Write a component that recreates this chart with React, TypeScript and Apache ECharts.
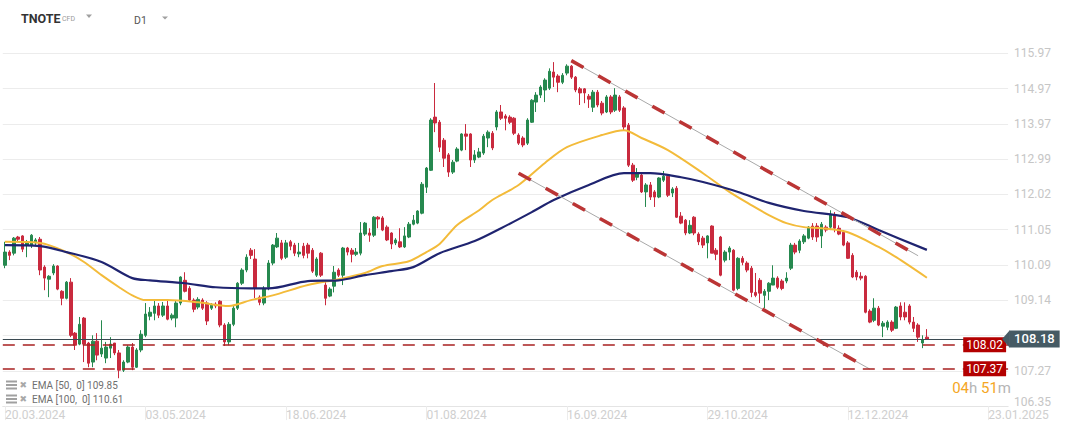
import React, { useEffect, useRef } from "react";
import * as echarts from "echarts";

const symbolName = "TNOTE";
const symbolType = "CFD";
const timeframe = "D1";

const yTickLabels = ["106.35", "107.27", "108.18", "109.14", "110.09", "111.05", "112.02", "112.99", "113.97", "114.97", "115.97"];
const xTickLabels = ["20.03.2024", "03.05.2024", "18.06.2024", "01.08.2024", "16.09.2024", "29.10.2024", "12.12.2024", "23.01.2025"];

// [open, close, low, high]
const candles: number[][] = [
  [110.19,110.55,110.11,110.83],[110.55,110.46,110.33,110.60],[110.52,110.93,110.46,110.96],[110.96,110.90,110.83,110.99],
  [110.99,110.63,110.55,111.01],[110.74,110.83,110.41,110.88],[110.74,111.01,110.66,111.04],[110.80,110.88,110.74,110.93],
  [110.90,110.06,109.92,110.96],[110.14,109.84,109.51,110.19],[109.81,109.89,109.32,109.92],[109.98,110.17,109.92,110.22],
  [110.17,109.54,109.51,110.19],[109.48,109.29,109.10,109.51],[109.29,109.73,109.26,109.76],[109.73,108.28,108.23,109.84],
  [108.34,108.01,107.88,108.37],[108.04,108.58,108.01,108.78],[108.75,108.04,107.55,108.78],[108.07,107.52,107.41,108.10],
  [107.55,108.12,107.41,108.28],[108.12,107.74,107.60,108.34],[107.77,107.93,107.69,108.69],[107.66,107.96,107.52,108.10],
  [107.93,108.04,107.66,108.23],[108.07,107.80,107.74,108.07],[107.80,107.33,107.11,107.88],[107.33,107.55,107.28,107.60],
  [107.55,107.96,107.52,108.01],[107.96,107.41,107.33,108.07],[107.41,107.88,107.39,107.93],[107.88,108.31,107.82,108.42],
  [108.28,108.86,108.23,109.16],[108.80,108.91,108.69,109.05],[108.88,109.08,108.69,109.24],[109.08,108.83,108.75,109.16],
  [108.83,109.08,108.78,109.19],[109.08,108.72,108.69,109.24],[108.75,108.83,108.69,108.88],[108.75,109.16,108.50,109.24],
  [109.16,109.87,109.10,109.89],[109.78,109.48,109.45,110.00],[109.56,109.24,109.19,109.62],[109.24,108.99,108.91,109.29],
  [109.05,109.26,108.99,109.32],[109.24,109.02,108.97,109.29],[109.16,108.67,108.56,109.21],[109.02,109.10,108.97,109.16],
  [109.13,109.08,109.02,109.18],[109.21,108.56,108.50,109.24],[108.56,108.10,107.99,108.61],[108.10,108.58,108.01,108.64],
  [108.58,109.02,108.53,109.08],[109.02,109.70,108.97,109.73],[109.70,110.06,109.65,110.11],[110.06,110.41,110.00,110.49],
  [110.60,110.46,110.36,110.66],[110.36,109.56,109.29,110.63],[109.32,109.18,109.10,109.37],[109.16,109.56,109.10,109.62],
  [109.59,110.25,109.51,110.33],[110.25,110.74,110.19,110.77],[110.69,110.93,110.66,111.07],[110.80,110.38,110.33,110.88],
  [110.41,110.80,110.36,110.88],[110.83,110.71,110.60,110.88],[110.74,110.52,110.44,110.80],[110.50,110.55,110.41,110.80],
  [110.71,110.46,110.38,110.80],[110.74,110.52,110.38,110.80],[110.60,110.03,109.98,110.66],[109.92,110.36,109.87,110.41],
  [110.52,109.92,109.87,110.55],[109.65,109.29,109.10,109.73],[109.35,109.54,109.32,109.59],[109.62,110.00,109.45,110.17],
  [110.06,109.92,109.87,110.11],[109.92,110.66,109.65,110.69],[110.66,110.55,110.46,110.69],[110.60,110.49,110.27,110.66],
  [110.49,110.55,110.44,110.66],[110.52,111.07,110.46,111.37],[111.04,111.34,110.99,111.37],[111.07,111.01,110.83,111.20],
  [111.01,111.50,110.96,111.53],[111.50,111.45,111.20,111.53],[111.48,111.15,111.12,111.53],[111.23,110.88,110.85,111.28],
  [111.07,110.77,110.63,111.09],[110.80,110.88,110.74,110.93],[110.83,110.69,110.66,111.20],[110.69,110.99,110.66,111.23],
  [110.96,111.31,110.93,111.37],[111.31,111.42,111.28,111.56],[111.34,111.67,111.31,111.69],[111.61,112.40,111.58,112.46],
  [112.32,112.84,112.16,112.87],[112.78,114.15,112.76,114.20],[114.23,114.07,113.82,115.16],[114.09,113.41,113.28,114.15],
  [113.60,113.11,112.87,113.66],[113.20,112.73,112.60,113.25],[112.73,113.00,112.68,113.06],[113.03,113.36,113.00,113.41],
  [113.33,113.77,113.30,113.79],[113.77,113.71,113.33,114.04],[113.77,113.06,112.87,113.79],[113.06,113.20,112.98,113.33],
  [113.14,113.28,113.11,113.39],[113.25,113.71,113.20,113.77],[113.66,113.82,113.41,113.87],[113.79,113.39,113.33,113.85],
  [113.96,114.37,113.87,114.42],[114.37,114.20,114.15,114.56],[114.26,114.20,113.87,114.31],[114.23,114.09,114.04,114.28],
  [114.20,113.79,113.74,114.23],[113.74,113.52,113.47,113.79],[113.66,113.47,113.41,113.71],[113.52,114.15,113.47,114.20],
  [114.09,114.69,114.07,114.72],[114.64,114.83,114.37,114.91],[114.83,115.05,114.75,115.10],[114.97,115.24,114.64,115.29],
  [115.02,115.48,114.97,115.56],[115.46,115.32,115.05,115.73],[115.35,115.18,114.91,115.40],[115.18,115.37,115.13,115.43],
  [115.43,115.62,115.37,115.67],[115.62,115.32,115.27,115.65],[115.32,114.97,114.91,115.35],[115.00,114.89,114.56,115.05],
  [115.00,114.89,114.61,115.02],[114.80,114.72,114.48,114.86],[114.50,114.91,114.37,114.97],[114.91,114.56,114.50,114.97],
  [114.61,114.34,114.28,114.67],[114.37,114.78,114.34,114.83],[114.78,114.37,114.31,114.83],[114.42,114.83,114.37,115.02],
  [114.78,114.42,114.37,114.83],[114.48,113.96,113.87,114.53],[114.01,112.92,112.87,114.07],[112.92,112.51,112.46,112.98],
  [112.59,112.68,112.51,112.84],[112.65,112.19,112.16,112.68],[112.19,112.38,111.78,112.43],[112.38,112.05,111.97,112.46],
  [112.19,112.05,111.78,112.24],[112.05,112.57,112.02,112.59],[112.51,112.62,112.46,112.76],[112.62,112.10,112.05,112.65],
  [112.16,112.27,112.05,112.32],[112.29,111.50,111.48,112.35],[111.53,111.34,111.31,111.64],[111.42,111.07,111.01,111.45],
  [111.07,111.28,111.04,111.42],[111.50,111.07,111.01,111.53],[111.04,110.83,110.74,111.09],[110.93,110.74,110.66,110.99],
  [110.80,110.99,110.38,111.01],[111.26,110.52,110.52,111.28],[110.60,110.49,110.33,110.66],[110.96,109.92,109.89,110.99],
  [110.33,110.55,110.27,110.60],[110.55,110.66,110.33,110.71],[110.60,109.51,109.48,110.63],[109.56,110.38,109.51,110.41],
  [110.38,110.27,110.19,110.44],[110.25,110.06,110.00,110.30],[110.11,109.45,109.32,110.17],[109.45,109.37,109.32,109.98],
  [109.78,109.43,109.16,109.84],[109.37,109.48,109.02,109.54],[109.48,109.70,109.24,109.73],[109.65,109.84,109.65,110.19],
  [109.84,109.59,109.54,109.89],[109.76,109.56,109.51,109.81],[109.76,109.84,109.70,110.00],[110.11,110.74,110.06,110.80],
  [110.74,110.55,110.49,110.80],[110.60,110.85,110.52,110.90],[110.83,110.99,110.77,111.04],[110.93,111.23,110.90,111.26],
  [111.26,110.96,110.88,111.34],[111.26,110.96,110.83,111.34],[110.99,111.31,110.66,111.37],[111.23,111.15,111.09,111.28],
  [111.23,111.56,111.15,111.69],[111.56,111.20,111.09,111.64],[111.20,111.04,111.01,111.28],[111.09,110.74,110.71,111.15],
  [110.80,110.38,110.36,110.85],[110.46,109.87,109.84,110.52],[110.00,109.87,109.78,110.06],[109.89,109.84,109.78,110.00],
  [109.89,108.91,108.88,109.92],[108.94,108.64,108.61,108.99],[108.69,109.02,108.64,109.29],[109.02,108.56,108.53,109.08],
  [108.53,108.61,108.23,108.67],[108.50,108.64,108.42,108.69],[108.64,108.42,108.37,108.69],[108.47,109.05,108.45,109.08],
  [109.08,108.78,108.69,109.18],[108.91,108.78,108.69,109.18],[109.08,108.64,108.58,109.13],[108.64,108.47,108.37,108.78],
  [108.56,108.23,108.10,108.61],[108.07,108.15,107.93,108.28],[108.23,108.18,108.18,108.45],
];

// [bar index, value]
const ema50: number[][] = [
  [0,110.83],[8,110.80],[14,110.55],[18,110.28],[22,109.92],[26,109.59],[29,109.37],[32,109.24],[37,109.24],
  [44,109.18],[51,109.08],[56,109.24],[61,109.37],[69,109.65],[76,109.81],[82,109.98],[86,110.17],[92,110.30],
  [96,110.55],[99,110.77],[103,111.29],[108,111.69],[111,111.97],[117,112.38],[123,112.98],[128,113.41],
  [136,113.74],[141,113.87],[145,113.66],[151,113.33],[159,112.70],[165,112.19],[170,111.83],[174,111.56],
  [178,111.34],[182,111.23],[186,111.20],[192,111.09],[199,110.69],[203,110.41],[210,109.85],
];
const ema100: number[][] = [
  [0,110.74],[8,110.71],[14,110.55],[22,110.28],[29,109.84],[33,109.78],[41,109.70],[48,109.59],[56,109.56],
  [60,109.56],[69,109.76],[76,109.78],[82,109.92],[88,110.03],[93,110.14],[99,110.52],[107,110.85],[113,111.20],
  [120,111.64],[125,111.97],[133,112.38],[141,112.70],[147,112.70],[154,112.59],[159,112.46],[167,112.19],
  [174,111.89],[182,111.67],[192,111.50],[199,111.15],[210,110.61],
];

const upperTrend: number[][] = [[129, 115.77], [208, 110.45]];
const lowerTrend: number[][] = [[117, 112.70], [197, 107.36]];
const supportLevels = [108.02, 107.37];
const lastPrice = 108.18;
const timerHours = "04";
const timerMinutes = "51";

const Y_MIN = Number(yTickLabels[0]);
const Y_MAX = Number(yTickLabels[yTickLabels.length - 1]);
const Y_STEP = (Y_MAX - Y_MIN) / (yTickLabels.length - 1);
const N_CATS = 229;
const LABEL_EVERY = 32;
const UP = "#26894f";
const DOWN = "#c92a3e";
const FONT = "Roboto";

export default function App() {
  const ref = useRef<HTMLDivElement>(null);
  useEffect(() => {
    document.body.style.margin = "0";
    const chart = echarts.init(ref.current!, null, { renderer: "svg" });
    const cats = Array.from({ length: N_CATS }, (_, i) => String(i));
    const gridRight = 65.9;
    const priceText = lastPrice.toFixed(2);
    const option: any = {
      animation: false,
      backgroundColor: "#ffffff",
      textStyle: { fontFamily: FONT },
      grid: { left: 2.8, right: gridRight, top: 53.3, bottom: 26.9 },
      xAxis: {
        type: "category",
        data: cats,
        boundaryGap: true,
        axisLine: { lineStyle: { color: "#e4e4e4" } },
        axisTick: { show: true, interval: LABEL_EVERY - 1, alignWithLabel: true, length: 14, lineStyle: { color: "#ececec" } },
        axisLabel: {
          interval: LABEL_EVERY - 1,
          formatter: (_v: string, i: number) => xTickLabels[i / LABEL_EVERY] ?? "",
          align: "left",
          color: "#cfcfcf",
          fontSize: 12,
          fontFamily: FONT,
          margin: 3,
        },
        splitLine: { show: false },
      },
      yAxis: {
        type: "value",
        position: "right",
        min: Y_MIN,
        max: Y_MAX,
        interval: Y_STEP,
        scale: true,
        axisLine: { show: false },
        axisTick: { show: false },
        splitLine: { lineStyle: { color: "#ececec", width: 1 } },
        axisLabel: {
          formatter: (v: number) => {
            const idx = Math.round((v - Y_MIN) / Y_STEP);
            const t = yTickLabels[idx] ?? "";
            if (t === priceText) return ""; // covered by the price tag
            if (idx === 0) return `{low|${t}}`;
            return t;
          },
          rich: { low: { padding: [0, 0, 8, 0], color: "#c6c6c6", fontSize: 12, fontFamily: FONT } },
          color: "#c6c6c6",
          fontSize: 12,
          fontFamily: FONT,
          margin: 6,
        },
      },
      series: [
        {
          type: "candlestick",
          data: candles,
          barWidth: 3,
          z: 2,
          itemStyle: { color: UP, color0: DOWN, borderColor: UP, borderColor0: DOWN, borderWidth: 1 },
          markLine: {
            silent: true,
            symbol: ["none", "none"],
            animation: false,
            data: [
              ...supportLevels.map((lv) => ({
                yAxis: lv,
                lineStyle: { color: "#a82020", type: [12, 8], width: 1.5 },
                label: {
                  show: true,
                  position: "insideEnd",
                  distance: 2,
                  formatter: lv.toFixed(2),
                  color: "#ffffff",
                  backgroundColor: "#b30000",
                  padding: [1, 3],
                  fontSize: 12,
                  lineHeight: 13,
                  fontFamily: FONT,
                },
              })),
              {
                yAxis: lastPrice,
                lineStyle: { color: "#3b4a52", type: "solid", width: 1 },
                label: {
                  show: true,
                  position: "end",
                  distance: 1,
                  formatter: priceText,
                  color: "#ffffff",
                  backgroundColor: "#455a64",
                  padding: [1, 5],
                  fontSize: 13,
                  fontWeight: 500,
                  lineHeight: 15,
                  fontFamily: FONT,
                },
              },
            ],
          },
        },
        {
          type: "line",
          data: ema50,
          symbol: "none",
          smooth: 0.3,
          z: 3,
          silent: true,
          lineStyle: { color: "#f3bb3a", width: 2 },
        },
        {
          type: "line",
          data: ema100,
          symbol: "none",
          smooth: 0.3,
          z: 3,
          silent: true,
          lineStyle: { color: "#1f2470", width: 2.2 },
        },
        ...[upperTrend, lowerTrend].flatMap((tl) => [
          { type: "line", data: tl, symbol: "none", z: 4, silent: true, lineStyle: { color: "#a8a8a8", width: 1 } },
          { type: "line", data: tl, symbol: "none", z: 5, silent: true, lineStyle: { color: "#bb3535", width: 3.5, type: [14, 17] } },
        ]),
      ],
    };
    chart.setOption(option);

    const py = chart.convertToPixel({ yAxisIndex: 0 }, lastPrice) as number;
    const gx = 1074 - gridRight;
    const legendRow = (y: number, label: string) => [
      { type: "rect", shape: { x: 6, y: y - 4.5, width: 11, height: 2 }, style: { fill: "#a0a0a0" } },
      { type: "rect", shape: { x: 6, y: y - 1, width: 11, height: 2 }, style: { fill: "#a0a0a0" } },
      { type: "rect", shape: { x: 6, y: y + 2.5, width: 11, height: 2 }, style: { fill: "#a0a0a0" } },
      { type: "text", x: 19.5, y, style: { text: "✖", fontSize: 9, fontFamily: "DejaVu Sans", fill: "#a8a8a8", verticalAlign: "middle" } },
      { type: "text", x: 32, y, style: { text: label, fontSize: 10, fontFamily: FONT, fill: "#6f6f6f", verticalAlign: "middle" } },
    ];
    chart.setOption({
      graphic: [
        { type: "text", x: 21, y: 18, style: { text: symbolName, fontSize: 12.5, fontWeight: "bold", fontFamily: FONT, fill: "#333333", verticalAlign: "middle" } },
        { type: "text", x: 62, y: 18.5, style: { text: symbolType, fontSize: 7, fontFamily: FONT, fill: "#9a9a9a", verticalAlign: "middle" } },
        { type: "polygon", shape: { points: [[86, 14.5], [92, 14.5], [89, 18]] }, style: { fill: "#a0a0a0" } },
        { type: "text", x: 134, y: 20, style: { text: timeframe, fontSize: 10.5, fontFamily: FONT, fill: "#555555", verticalAlign: "middle" } },
        { type: "polygon", shape: { points: [[162, 16.5], [168, 16.5], [165, 19.5]] }, style: { fill: "#a0a0a0" } },
        ...legendRow(385, `EMA [50,  0] ${ema50[ema50.length - 1][1].toFixed(2)}`),
        ...legendRow(399, `EMA [100,  0] ${ema100[ema100.length - 1][1].toFixed(2)}`),
        {
          type: "text",
          x: 1011,
          y: 388,
          style: {
            text: `{o|${timerHours}}{g|h} {o|${timerMinutes}}{g|m}`,
            align: "right",
            verticalAlign: "middle",
            fontSize: 15,
            fontFamily: FONT,
            rich: {
              o: { fill: "#f5a623", fontSize: 15, fontFamily: FONT },
              g: { fill: "#b5b5b5", fontSize: 15, fontFamily: FONT },
            },
          },
          z: 10,
        },
        { type: "polygon", shape: { points: [[gx - 6, py], [gx + 1.5, py - 8.5], [gx + 1.5, py + 8.5]] }, style: { fill: "#455a64" }, z: 10 },
      ],
    });
    return () => chart.dispose();
  }, []);
  return <div ref={ref} style={{ position: "absolute", left: 0, top: 0, width: 1074, height: 433, background: "#fff" }} />;
}
